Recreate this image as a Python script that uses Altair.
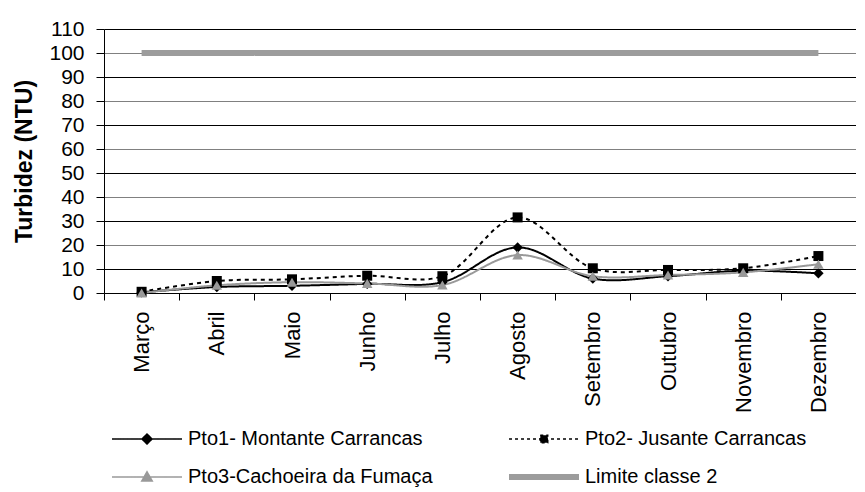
import altair as alt
import pandas as pd

meses = ["Março", "Abril", "Maio", "Junho", "Julho", "Agosto",
         "Setembro", "Outubro", "Novembro", "Dezembro"]
pto1 = [0.3, 2.5, 3.0, 3.8, 4.5, 19.0, 6.0, 7.0, 9.3, 8.2]
pto2 = [0.5, 5.0, 5.7, 7.2, 7.0, 31.5, 10.3, 9.6, 10.3, 15.4]
pto3 = [0.0, 3.2, 4.5, 4.0, 3.3, 15.8, 7.0, 7.5, 8.6, 12.0]
limite = [100, 100, 100, 100, 100, 100, 100, 100, 100, 100]

series = ["Pto1- Montante Carrancas", "Pto2- Jusante Carrancas",
          "Pto3-Cachoeira da Fumaça", "Limite classe 2"]
cores = ["#000000", "#000000", "#999999", "#9c9c9c"]
y_ticks = [0, 10, 20, 30, 40, 50, 60, 70, 80, 90, 100, 110]

rows = []
for nome, vals in zip(series, [pto1, pto2, pto3, limite]):
    for m, v in zip(meses, vals):
        rows.append({"serie": nome, "mes": m, "valor": v})
df = pd.DataFrame(rows)

FONT = "Liberation Sans"

x_enc = alt.X(
    "mes:N", sort=meses, bandPosition=0.5,
    scale=alt.Scale(type="band", paddingInner=0, paddingOuter=0),
    axis=alt.Axis(title=None, labelAngle=270, labelAlign="right", labelBaseline="middle",
                  labelFont=FONT, labelFontSize=22, labelColor="black", labelPadding=11,
                  tickBand="extent", tickSize=7, tickColor="black", domainColor="black",
                  grid=False, labelLimit=300),
)
y_enc = alt.Y(
    "valor:Q",
    scale=alt.Scale(domain=[0, 110], nice=False, zero=True),
    axis=alt.Axis(values=y_ticks, title="Turbidez (NTU)", titleFont=FONT, titleFontSize=23,
                  titleFontWeight="bold", titleColor="black", titleAngle=270,
                  titleX=-80, titleY=132, titleAlign="center", titleBaseline="middle",
                  labelFont=FONT, labelFontSize=21, labelColor="black", labelPadding=12,
                  tickSize=8, tickColor="black", domainColor="black",
                  grid=True, gridWidth=1,
                  gridColor={"condition": {"test": "datum.value % 20 === 0", "value": "#808080"},
                             "value": "#000000"}),
)

shape_expr = (
    "datum.value == 'Pto1- Montante Carrancas' ? 'M-3,0H3M0,-0.43L0.43,0L0,0.43L-0.43,0Z' : "
    "datum.value == 'Pto2- Jusante Carrancas' ? 'M-3,0H3M-0.32,-0.32H0.32V0.32H-0.32Z' : "
    "datum.value == 'Pto3-Cachoeira da Fumaça' ? 'M-3,0H3M0,-0.45L0.45,0.35H-0.45Z' : 'M-3,0H3'"
)
fill_expr = (
    "datum.value == 'Pto3-Cachoeira da Fumaça' ? '#999999' : "
    "datum.value == 'Limite classe 2' ? 'transparent' : '#000000'"
)
sw_expr = "datum.value == 'Limite classe 2' ? 6 : 1.5"
dash_expr = "datum.value == 'Pto2- Jusante Carrancas' ? [3, 3] : [1, 0]"

legend = alt.Legend(
    title=None, orient="none", legendX=10, legendY=400, columns=2, direction="horizontal",
    columnPadding=64, rowPadding=16, padding=0,
    symbolType={"expr": shape_expr}, symbolSize=544, symbolOffset=23, labelOffset=31,
    symbolFillColor={"expr": fill_expr}, symbolStrokeWidth={"expr": sw_expr},
    symbolDash={"expr": dash_expr},
    labelFont=FONT, labelFontSize=20, labelColor="black", labelLimit=400,
    labelBaseline="middle",
)

linhas = alt.Chart(df).mark_line(interpolate="catmull-rom").encode(
    x=x_enc, y=y_enc,
    color=alt.Color("serie:N", scale=alt.Scale(domain=series, range=cores), legend=legend),
    strokeDash=alt.condition("datum.serie == 'Pto2- Jusante Carrancas'",
                             alt.value([4, 4]), alt.value([1, 0])),
    strokeWidth=alt.condition("datum.serie == 'Limite classe 2'",
                              alt.value(6), alt.value(2)),
)


def pontos(nome, forma, cor, tam):
    return alt.Chart(df).transform_filter(alt.datum.serie == nome).mark_point(
        shape=forma, filled=True, color=cor, size=tam, opacity=1
    ).encode(x=x_enc, y=y_enc)


chart = alt.layer(
    linhas,
    pontos(series[0], "diamond", "#000000", 110),
    pontos(series[1], "square", "#000000", 100),
    pontos(series[2], "triangle-up", "#999999", 110),
).properties(
    width=752, height=264,
    padding={"left": 96, "top": 21, "right": 0, "bottom": 197},
    autosize="none",
).configure_view(stroke=None).configure(background="white")

chart.save("out.html", embed_options={"renderer": "svg", "actions": False})
